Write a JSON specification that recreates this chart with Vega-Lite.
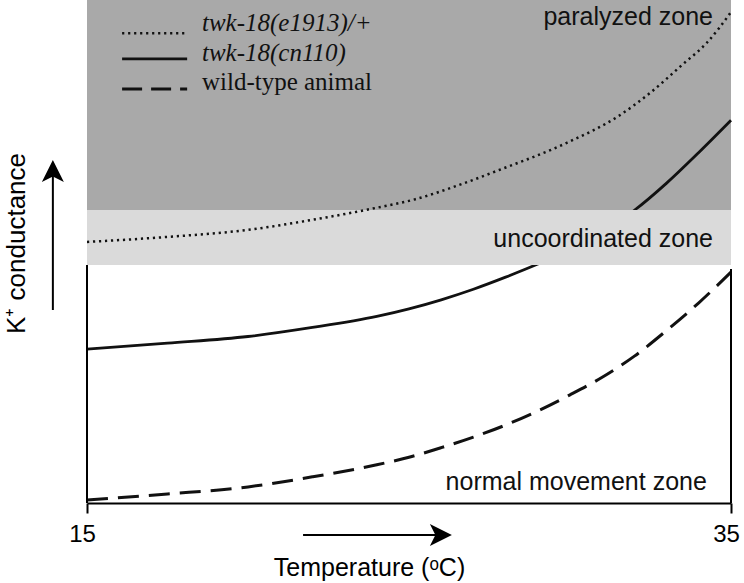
{
  "$schema": "https://vega.github.io/schema/vega-lite/v6.json",
  "autosize": {"type": "none"},
  "width": 644,
  "height": 503,
  "padding": {"left": 87, "top": 0, "right": 13, "bottom": 80},
  "background": "white",
  "config": {"view": {"stroke": null}},
  "resolve": {"axis": {"x": "independent", "y": "independent"}},
  "data": {"values": [{}]},
  "datasets": {
    "curves": [
      {"strain": "twk-18(e1913)/+", "T": 15, "K": 51.9},
      {"strain": "twk-18(e1913)/+", "T": 17.5, "K": 52.9},
      {"strain": "twk-18(e1913)/+", "T": 20, "K": 54.3},
      {"strain": "twk-18(e1913)/+", "T": 22, "K": 56.3},
      {"strain": "twk-18(e1913)/+", "T": 24, "K": 58.7},
      {"strain": "twk-18(e1913)/+", "T": 25.2, "K": 60.4},
      {"strain": "twk-18(e1913)/+", "T": 26.5, "K": 63.1},
      {"strain": "twk-18(e1913)/+", "T": 27.8, "K": 66.2},
      {"strain": "twk-18(e1913)/+", "T": 29.9, "K": 71.6},
      {"strain": "twk-18(e1913)/+", "T": 31.5, "K": 76.9},
      {"strain": "twk-18(e1913)/+", "T": 32.5, "K": 81.6},
      {"strain": "twk-18(e1913)/+", "T": 33.5, "K": 87.2},
      {"strain": "twk-18(e1913)/+", "T": 34.25, "K": 91.5},
      {"strain": "twk-18(e1913)/+", "T": 35, "K": 97.6},
      {"strain": "twk-18(cn110)", "T": 15, "K": 30.6},
      {"strain": "twk-18(cn110)", "T": 17.5, "K": 31.8},
      {"strain": "twk-18(cn110)", "T": 20, "K": 33.1},
      {"strain": "twk-18(cn110)", "T": 22, "K": 34.9},
      {"strain": "twk-18(cn110)", "T": 24, "K": 37.1},
      {"strain": "twk-18(cn110)", "T": 25, "K": 38.6},
      {"strain": "twk-18(cn110)", "T": 26, "K": 40.4},
      {"strain": "twk-18(cn110)", "T": 27, "K": 42.5},
      {"strain": "twk-18(cn110)", "T": 28, "K": 44.9},
      {"strain": "twk-18(cn110)", "T": 29, "K": 47.5},
      {"strain": "twk-18(cn110)", "T": 30, "K": 50.4},
      {"strain": "twk-18(cn110)", "T": 31, "K": 54.0},
      {"strain": "twk-18(cn110)", "T": 32, "K": 58.2},
      {"strain": "twk-18(cn110)", "T": 33, "K": 63.6},
      {"strain": "twk-18(cn110)", "T": 34, "K": 69.7},
      {"strain": "twk-18(cn110)", "T": 35, "K": 76.1},
      {"strain": "wild-type animal", "T": 15, "K": 0.6},
      {"strain": "wild-type animal", "T": 17.5, "K": 1.8},
      {"strain": "wild-type animal", "T": 20, "K": 3.2},
      {"strain": "wild-type animal", "T": 22, "K": 5.2},
      {"strain": "wild-type animal", "T": 24, "K": 7.6},
      {"strain": "wild-type animal", "T": 25, "K": 9.1},
      {"strain": "wild-type animal", "T": 26, "K": 11.0},
      {"strain": "wild-type animal", "T": 27, "K": 13.1},
      {"strain": "wild-type animal", "T": 28, "K": 15.5},
      {"strain": "wild-type animal", "T": 29, "K": 18.3},
      {"strain": "wild-type animal", "T": 30, "K": 21.5},
      {"strain": "wild-type animal", "T": 31, "K": 25.0},
      {"strain": "wild-type animal", "T": 32, "K": 29.2},
      {"strain": "wild-type animal", "T": 33, "K": 34.3},
      {"strain": "wild-type animal", "T": 34, "K": 39.8},
      {"strain": "wild-type animal", "T": 35, "K": 45.9}
    ]
  },
  "layer": [
    {
      "mark": {"type": "rect", "fill": "#a9a9a9"},
      "encoding": {
        "x": {"datum": 15, "type": "quantitative", "scale": {"domain": [15, 35], "nice": false, "zero": false}, "axis": null},
        "x2": {"datum": 35},
        "y": {"datum": 58.25, "type": "quantitative", "scale": {"domain": [0, 100], "nice": false, "zero": false}, "axis": null},
        "y2": {"datum": 100}
      }
    },
    {
      "mark": {"type": "rect", "fill": "#dadada"},
      "encoding": {
        "x": {"datum": 15, "type": "quantitative", "axis": null},
        "x2": {"datum": 35},
        "y": {"datum": 47.3, "type": "quantitative", "axis": null},
        "y2": {"datum": 58.25}
      }
    },
    {
      "data": {"name": "curves"},
      "transform": [{"filter": "datum.strain === 'twk-18(e1913)/+'"}],
      "mark": {"type": "line", "interpolate": "monotone", "color": "#111", "strokeWidth": 2.5, "strokeDash": [2.2, 3.8], "strokeCap": "butt"},
      "encoding": {
        "x": {"field": "T", "type": "quantitative",
          "scale": {"domain": [15, 35], "nice": false, "zero": false},
          "axis": {"title": "Temperature (ᵒC)", "values": [15, 35], "format": "d", "grid": false,
            "domainColor": "black", "domainWidth": 2, "tickColor": "black", "tickWidth": 2, "tickSize": 10,
            "labelFont": "Liberation Sans", "labelFontSize": 24, "labelColor": "black", "labelPadding": 9,
            "labelOffset": -5, "labelFlush": false, "labelOverlap": false, "labelBound": false,
            "titleFont": "Liberation Sans", "titleFontSize": 25, "titleFontWeight": "normal", "titleColor": "black",
            "titleX": 282, "titleY": 72, "titleBaseline": "alphabetic", "titleAlign": "center"}},
        "y": {"field": "K", "type": "quantitative",
          "scale": {"domain": [0, 100], "nice": false, "zero": false},
          "axis": {"title": "K⁺ conductance", "domain": false, "ticks": false, "labels": false, "grid": false,
            "titleFont": "Liberation Sans", "titleFontSize": 26, "titleFontWeight": "normal", "titleColor": "black",
            "titleX": -63, "titleY": 243, "titleAngle": 270, "titleBaseline": "alphabetic", "titleAlign": "center"}}
      }
    },
    {
      "data": {"name": "curves"},
      "transform": [{"filter": "datum.strain === 'twk-18(cn110)'"}],
      "mark": {"type": "line", "interpolate": "monotone", "color": "#111", "strokeWidth": 2.8},
      "encoding": {
        "x": {"field": "T", "type": "quantitative", "axis": null},
        "y": {"field": "K", "type": "quantitative", "axis": null}
      }
    },
    {
      "data": {"name": "curves"},
      "transform": [{"filter": "datum.strain === 'wild-type animal'"}],
      "mark": {"type": "line", "interpolate": "monotone", "color": "#111", "strokeWidth": 3, "strokeDash": [21, 10], "strokeCap": "butt"},
      "encoding": {
        "x": {"field": "T", "type": "quantitative", "axis": null},
        "y": {"field": "K", "type": "quantitative", "axis": null}
      }
    },
    {
      "mark": {"type": "rect", "fill": "#dadada"},
      "encoding": {
        "x": {"datum": 26.9, "type": "quantitative", "axis": null},
        "x2": {"datum": 35},
        "y": {"datum": 47.3, "type": "quantitative", "axis": null},
        "y2": {"datum": 58.25}
      }
    },
    {
      "mark": {"type": "rule", "color": "black", "strokeWidth": 2},
      "encoding": {
        "x": {"datum": 15, "type": "quantitative", "axis": null},
        "y": {"datum": 0, "type": "quantitative", "axis": null},
        "y2": {"datum": 47.3}
      }
    },
    {
      "mark": {"type": "rule", "color": "black", "strokeWidth": 2},
      "encoding": {
        "x": {"datum": 35, "type": "quantitative", "axis": null},
        "y": {"datum": 0, "type": "quantitative", "axis": null},
        "y2": {"datum": 46.5}
      }
    },
    {
      "mark": {"type": "text", "align": "right", "baseline": "alphabetic", "font": "Liberation Sans", "fontSize": 25, "color": "#111"},
      "encoding": {
        "x": {"datum": 34.44, "type": "quantitative", "axis": null},
        "y": {"datum": 95.0, "type": "quantitative", "axis": null},
        "text": {"value": "paralyzed zone"}
      }
    },
    {
      "mark": {"type": "text", "align": "right", "baseline": "alphabetic", "font": "Liberation Sans", "fontSize": 25, "color": "#111"},
      "encoding": {
        "x": {"datum": 34.44, "type": "quantitative", "axis": null},
        "y": {"datum": 50.9, "type": "quantitative", "axis": null},
        "text": {"value": "uncoordinated zone"}
      }
    },
    {
      "mark": {"type": "text", "align": "right", "baseline": "alphabetic", "font": "Liberation Sans", "fontSize": 25, "color": "#111"},
      "encoding": {
        "x": {"datum": 34.25, "type": "quantitative", "axis": null},
        "y": {"datum": 2.6, "type": "quantitative", "axis": null},
        "text": {"value": "normal movement zone"}
      }
    },
    {
      "mark": {"type": "rule", "color": "#111", "strokeWidth": 2.5, "strokeDash": [2.2, 3.8], "strokeCap": "butt"},
      "encoding": {
        "x": {"datum": 16.09, "type": "quantitative", "axis": null},
        "x2": {"datum": 18.11},
        "y": {"datum": 93.4, "type": "quantitative", "axis": null}
      }
    },
    {
      "mark": {"type": "rule", "color": "#111", "strokeWidth": 2.8},
      "encoding": {
        "x": {"datum": 16.09, "type": "quantitative", "axis": null},
        "x2": {"datum": 18.11},
        "y": {"datum": 88.3, "type": "quantitative", "axis": null}
      }
    },
    {
      "mark": {"type": "rule", "color": "#111", "strokeWidth": 3, "strokeDash": [20, 9], "strokeCap": "butt"},
      "encoding": {
        "x": {"datum": 16.09, "type": "quantitative", "axis": null},
        "x2": {"datum": 18.11},
        "y": {"datum": 82.3, "type": "quantitative", "axis": null}
      }
    },
    {
      "mark": {"type": "text", "align": "left", "baseline": "alphabetic", "font": "Liberation Serif", "fontStyle": "italic", "fontSize": 25, "color": "#111"},
      "encoding": {
        "x": {"datum": 18.57, "type": "quantitative", "axis": null},
        "y": {"datum": 93.8, "type": "quantitative", "axis": null},
        "text": {"value": "twk-18(e1913)/+"}
      }
    },
    {
      "mark": {"type": "text", "align": "left", "baseline": "alphabetic", "font": "Liberation Serif", "fontStyle": "italic", "fontSize": 25, "color": "#111"},
      "encoding": {
        "x": {"datum": 18.57, "type": "quantitative", "axis": null},
        "y": {"datum": 87.9, "type": "quantitative", "axis": null},
        "text": {"value": "twk-18(cn110)"}
      }
    },
    {
      "mark": {"type": "text", "align": "left", "baseline": "alphabetic", "font": "Liberation Serif", "fontSize": 25, "color": "#111"},
      "encoding": {
        "x": {"datum": 18.57, "type": "quantitative", "axis": null},
        "y": {"datum": 82.1, "type": "quantitative", "axis": null},
        "text": {"value": "wild-type animal"}
      }
    },
    {
      "mark": {"type": "rule", "color": "black", "strokeWidth": 2},
      "encoding": {
        "x": {"datum": 21.71, "type": "quantitative", "axis": null},
        "x2": {"datum": 26.0},
        "y": {"datum": -6.36, "type": "quantitative", "axis": null}
      }
    },
    {
      "mark": {"type": "point", "filled": true, "color": "black", "opacity": 1, "size": 484, "shape": "M1,0L-1,-1L-0.5,0L-1,1Z"},
      "encoding": {
        "x": {"datum": 25.99, "type": "quantitative", "axis": null},
        "y": {"datum": -6.36, "type": "quantitative", "axis": null}
      }
    },
    {
      "mark": {"type": "rule", "color": "black", "strokeWidth": 2},
      "encoding": {
        "x": {"datum": 13.94, "type": "quantitative", "axis": null},
        "y": {"datum": 38.37, "type": "quantitative", "axis": null},
        "y2": {"datum": 66.0}
      }
    },
    {
      "mark": {"type": "point", "filled": true, "color": "black", "opacity": 1, "size": 484, "shape": "M0,-1L1,1L0,0.5L-1,1Z"},
      "encoding": {
        "x": {"datum": 13.94, "type": "quantitative", "axis": null},
        "y": {"datum": 66.0, "type": "quantitative", "axis": null}
      }
    }
  ]
}
